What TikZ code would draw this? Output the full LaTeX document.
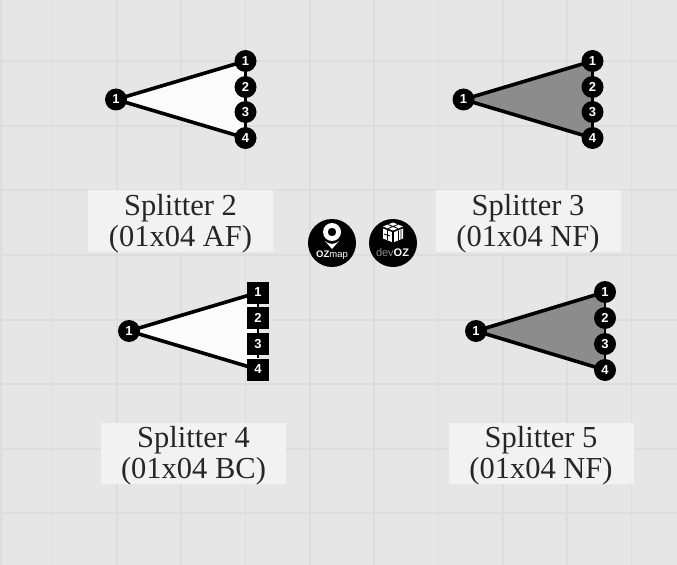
\documentclass[tikz,border=0pt]{standalone}
\usepackage{fontspec}
\setmainfont{Liberation Serif}
\setsansfont{Liberation Sans}
\usetikzlibrary{backgrounds}
\definecolor{bgc}{HTML}{E6E6E6}
\definecolor{gridc}{HTML}{DDDDDD}
\definecolor{panelc}{HTML}{F2F2F2}
\definecolor{darkfill}{HTML}{8C8C8C}
\definecolor{lightfill}{HTML}{FBFBFB}
\tikzset{
  portc/.style={circle,fill=black,draw=none,minimum size=22bp,inner sep=0pt,text=white,font=\sffamily\bfseries\fontsize{13bp}{13bp}\selectfont},
  ports/.style={rectangle,fill=black,draw=none,minimum width=22.5bp,minimum height=22bp,inner sep=0pt,text=white,font=\sffamily\bfseries\fontsize{13bp}{13bp}\selectfont},
  tri/.style={draw=black,line width=3.6bp,line join=round},
  link/.style={draw=black,line width=2.5bp},
  panel/.style={fill=panelc,minimum width=185bp,minimum height=61bp,inner sep=0pt},
  captext/.style={inner sep=0pt,align=center,font=\fontsize{30.5bp}{31bp}\selectfont,text=black!85},
  logo/.style={circle,fill=black,minimum size=48bp,inner sep=0pt},
  logot/.style={text=white,inner sep=0pt,font=\sffamily\fontsize{9.5bp}{9.5bp}\selectfont}
}
\begin{document}
\begin{tikzpicture}[x=1bp,y=-1bp]
\useasboundingbox (0,0) rectangle (677,565);
% nodes first, everything behind them goes on the background layer
\node[portc] (ai) at (116,99.5) {1};
\node[portc] (a1) at (245.5,61) {1};
\node[portc] (a2) at (245.5,87) {2};
\node[portc] (a3) at (245.5,112) {3};
\node[portc] (a4) at (245.5,138) {4};
\node[portc] (bi) at (463.5,99.5) {1};
\node[portc] (b1) at (592.5,61) {1};
\node[portc] (b2) at (592.5,87) {2};
\node[portc] (b3) at (592.5,112) {3};
\node[portc] (b4) at (592.5,138) {4};
\node[portc] (ci) at (129,331) {1};
\node[ports] (c1) at (258,292.5) {1};
\node[ports] (c2) at (258,318) {2};
\node[ports] (c3) at (258,344) {3};
\node[ports] (c4) at (258,369.5) {4};
\node[portc] (di) at (476,331) {1};
\node[portc] (d1) at (605,292) {1};
\node[portc] (d2) at (605,318) {2};
\node[portc] (d3) at (605,344) {3};
\node[portc] (d4) at (605,370) {4};
\begin{pgfonlayer}{background}
\fill[bgc] (0,0) rectangle (677,565);
\foreach \gx in {1,52.5,117,181,245.5,310,374,438.5,503,567,631.5}
  \draw[gridc,line width=1.4bp] (\gx,0) -- (\gx,565);
\foreach \gy in {61,126,190,255,320,384,449,513}
  \draw[gridc,line width=1.4bp] (0,\gy) -- (677,\gy);
\node[panel] (capa) at (180.5,221) {};
\node[panel] (capb) at (528,221) {};
\node[panel] (capc) at (193.5,453) {};
\node[panel] (capd) at (541,453) {};
\node[captext,yshift=-3bp] (capta) at (capa) {Splitter 2\\(01x04 AF)};
\node[captext,yshift=-3bp] (captb) at (capb) {Splitter 3\\(01x04 NF)};
\node[captext,yshift=-3bp] (captc) at (capc) {Splitter 4\\(01x04 BC)};
\node[captext,yshift=-3bp] (captd) at (capd) {Splitter 5\\(01x04 NF)};
% splitter bodies
\fill[lightfill] (ai.center) -- (a1.center) -- (a4.center) -- cycle;
\draw[tri] (a1.center) -- (ai.center) -- (a4.center);
\draw[link] (a1) -- (a2) (a2) -- (a3) (a3) -- (a4);
\fill[darkfill] (bi.center) -- (b1.center) -- (b4.center) -- cycle;
\draw[tri] (b1.center) -- (bi.center) -- (b4.center);
\draw[link] (b1) -- (b2) (b2) -- (b3) (b3) -- (b4);
\fill[lightfill] (ci.center) -- (c1.center) -- (c4.center) -- cycle;
\draw[tri] (c1.center) -- (ci.center) -- (c4.center);
\draw[link] (c1) -- (c2) (c2) -- (c3) (c3) -- (c4);
\fill[darkfill] (di.center) -- (d1.center) -- (d4.center) -- cycle;
\draw[tri] (d1.center) -- (di.center) -- (d4.center);
\draw[link] (d1) -- (d2) (d2) -- (d3) (d3) -- (d4);
\end{pgfonlayer}
% logos
\node[logo] (oz) at (332,243) {};
\node[logo] (dv) at (393,243) {};
\fill[white,even odd rule] (332,232) circle[radius=9] (332,232) circle[radius=4.3];
\fill[white] (325,241) -- (328,243) -- (332,244) -- (336,243) -- (339,241) -- (332,249) -- cycle;
\node[logot] (ozt) at (332,255) {\textbf{OZ}map};
\fill[white] (393,222.5) -- (403,226.5) -- (393,230.5) -- (383,226.5) -- cycle;
\fill[white] (383,228.5) -- (391.8,232) -- (391.8,242) -- (383,238.5) -- cycle;
\fill[white] (403,228.5) -- (394.2,232) -- (394.2,242) -- (403,238.5) -- cycle;
\draw[black,line width=0.8bp] (388,224.5) -- (398,228.5) (398,224.5) -- (388,228.5) (398.5,230.5) -- (398.5,240.5) (401,229.5) -- (401,239.5) (384,234) -- (390,236) (387.5,230) -- (387.5,240);
\node[logot,font=\sffamily\fontsize{11bp}{11bp}\selectfont] (dvt) at (392.5,252.5) {\textcolor{black!45}{dev}\textbf{OZ}};
\end{tikzpicture}
\end{document}
